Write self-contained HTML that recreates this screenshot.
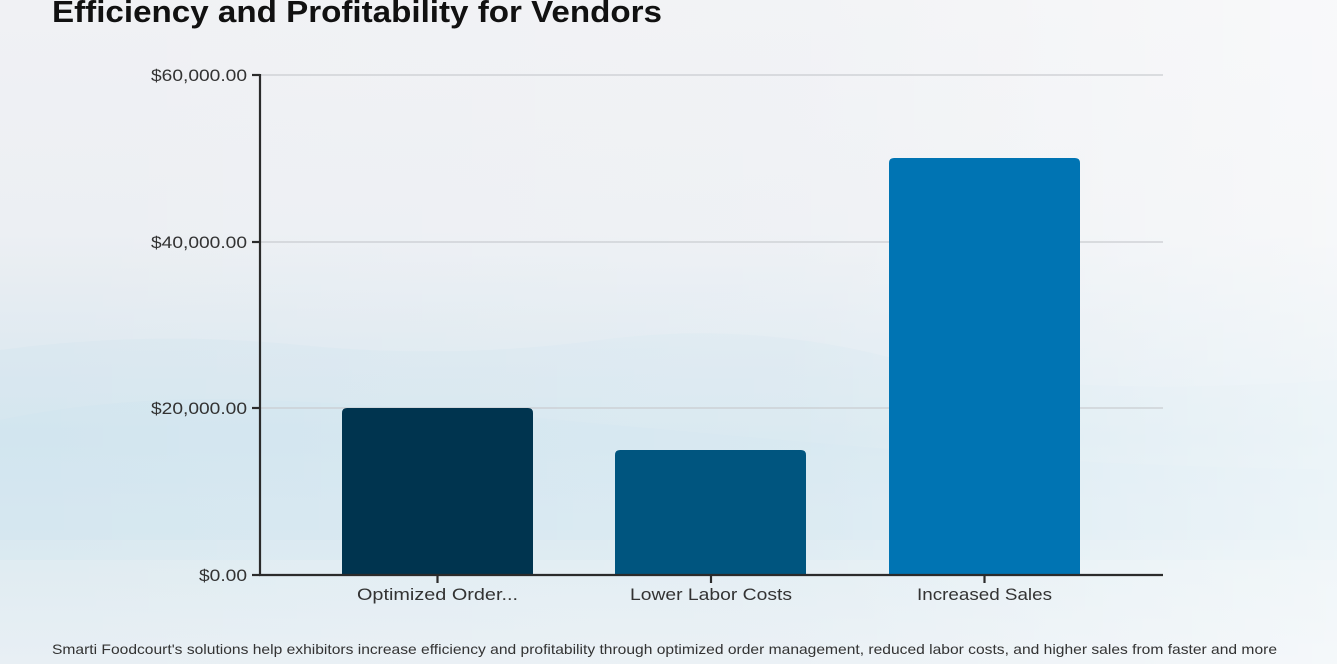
<!DOCTYPE html>
<html>
<head>
<meta charset="utf-8">
<style>
html,body{margin:0;padding:0;}
body{width:1337px;height:664px;overflow:hidden;position:relative;
background:#eef1f4;}
.bg{position:absolute;left:0;top:0;width:1337px;height:664px;}
</style>
</head>
<body>
<svg class="bg" width="1337" height="664" viewBox="0 0 1337 664" xmlns="http://www.w3.org/2000/svg">
  <defs>
    <linearGradient id="vg" x1="0" y1="0" x2="0" y2="1">
      <stop offset="0" stop-color="#f0f1f4"/>
      <stop offset="0.35" stop-color="#eceff3"/>
      <stop offset="0.52" stop-color="#e0eaf1"/>
      <stop offset="0.66" stop-color="#d6e7f0"/>
      <stop offset="0.85" stop-color="#e0ecf2"/>
      <stop offset="1" stop-color="#e8eff4"/>
    </linearGradient>
    <linearGradient id="hg" x1="0" y1="0" x2="1" y2="0">
      <stop offset="0" stop-color="#ffffff" stop-opacity="0"/>
      <stop offset="0.6" stop-color="#ffffff" stop-opacity="0.15"/>
      <stop offset="1" stop-color="#ffffff" stop-opacity="0.55"/>
    </linearGradient>
  </defs>
  <rect x="0" y="0" width="1337" height="664" fill="url(#vg)"/>
  <path d="M0 350 Q150 330 300 345 T600 340 T900 360 T1337 380 L1337 560 L0 560 Z" fill="#cfe3ee" opacity="0.3"/>
  <path d="M0 420 Q120 395 260 400 T560 420 T900 450 T1337 470 L1337 540 L0 540 Z" fill="#cde3ee" opacity="0.25"/>
  <rect x="0" y="0" width="1337" height="664" fill="url(#hg)"/>

  <!-- title -->
  <text x="52" y="22" font-family="Liberation Sans, sans-serif" font-weight="bold" font-size="31" fill="#111" textLength="610" lengthAdjust="spacingAndGlyphs">Efficiency and Profitability for Vendors</text>

  <!-- gridlines -->
  <g stroke="#c9ccd0" stroke-width="1.2">
    <line x1="260" y1="75" x2="1163" y2="75"/>
    <line x1="260" y1="242" x2="1163" y2="242"/>
    <line x1="260" y1="408" x2="1163" y2="408"/>
  </g>

  <!-- bars -->
  <path d="M342 575 L342 413 Q342 408 347 408 L528 408 Q533 408 533 413 L533 575 Z" fill="#00344f"/>
  <path d="M615 575 L615 455 Q615 450 620 450 L801 450 Q806 450 806 455 L806 575 Z" fill="#00557f"/>
  <path d="M889 575 L889 163 Q889 158 894 158 L1075 158 Q1080 158 1080 163 L1080 575 Z" fill="#0074b3"/>

  <!-- axes -->
  <g stroke="#2b2b2b" stroke-width="2.2">
    <line x1="260" y1="74" x2="260" y2="576"/>
    <line x1="259" y1="575" x2="1163" y2="575"/>
    <line x1="252" y1="75" x2="260" y2="75"/>
    <line x1="252" y1="242" x2="260" y2="242"/>
    <line x1="252" y1="408" x2="260" y2="408"/>
    <line x1="252" y1="575" x2="260" y2="575"/>
    <line x1="437.5" y1="575" x2="437.5" y2="583"/>
    <line x1="711" y1="575" x2="711" y2="583"/>
    <line x1="984.5" y1="575" x2="984.5" y2="583"/>
  </g>

  <!-- y tick labels -->
  <g font-family="Liberation Sans, sans-serif" font-size="17" fill="#333" text-anchor="end">
    <text x="247" y="81" textLength="96" lengthAdjust="spacingAndGlyphs">$60,000.00</text>
    <text x="247" y="248" textLength="96" lengthAdjust="spacingAndGlyphs">$40,000.00</text>
    <text x="247" y="414" textLength="96" lengthAdjust="spacingAndGlyphs">$20,000.00</text>
    <text x="247" y="581" textLength="48" lengthAdjust="spacingAndGlyphs">$0.00</text>
  </g>

  <!-- x labels -->
  <g font-family="Liberation Sans, sans-serif" font-size="17" fill="#333" text-anchor="middle">
    <text x="437.5" y="600" textLength="161" lengthAdjust="spacingAndGlyphs">Optimized Order...</text>
    <text x="711" y="600" textLength="162" lengthAdjust="spacingAndGlyphs">Lower Labor Costs</text>
    <text x="984.5" y="600" textLength="135" lengthAdjust="spacingAndGlyphs">Increased Sales</text>
  </g>

  <!-- footer -->
  <text x="52" y="654" font-family="Liberation Sans, sans-serif" font-size="14" fill="#333" textLength="1225" lengthAdjust="spacingAndGlyphs">Smarti Foodcourt's solutions help exhibitors increase efficiency and profitability through optimized order management, reduced labor costs, and higher sales from faster and more</text>
</svg>
</body>
</html>
